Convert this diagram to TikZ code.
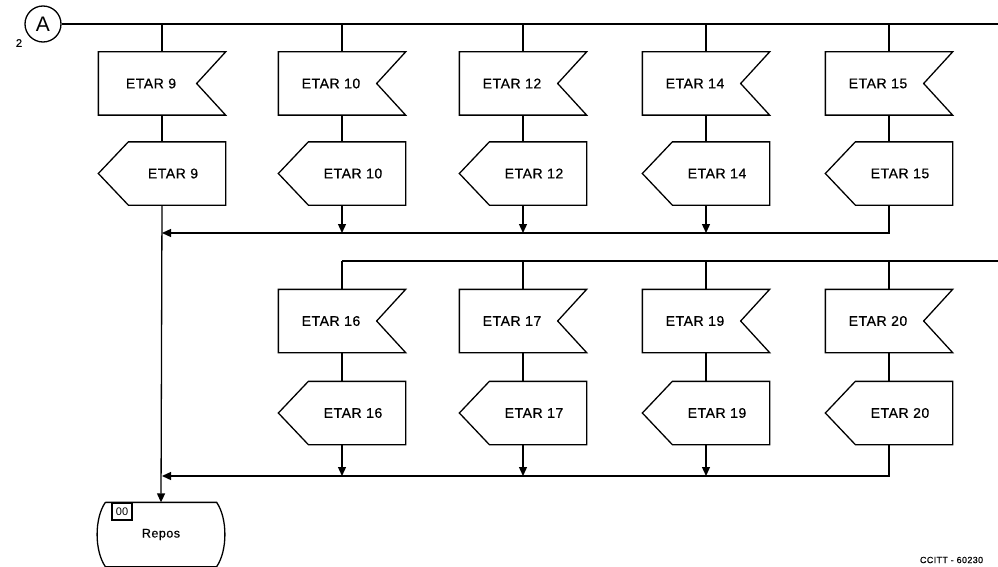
\documentclass[tikz,border=0pt]{standalone}
\usepackage{fontspec}
\setmainfont{Liberation Sans}
\newfontfamily\etarfont[LetterSpace=4,FakeBold=0.6]{Liberation Sans}
\usetikzlibrary{arrows.meta}

\begin{document}
\begin{tikzpicture}[x=1pt, y=-1pt, line width=1.3pt, >={Triangle[length=9pt,width=8pt]},
    inbox/.style={minimum width=126pt, minimum height=62pt, inner sep=0pt,
      font=\etarfont\fontsize{14}{16}\selectfont, execute at end node={\hspace{22pt}},
      append after command={\pgfextra{\draw (\tikzlastnode.north west) -- (\tikzlastnode.north east)
        -- ([xshift=-29pt]\tikzlastnode.east) -- (\tikzlastnode.south east)
        -- (\tikzlastnode.south west) -- cycle;}}},
    outbox/.style={minimum width=126pt, minimum height=62pt, inner sep=0pt,
      font=\etarfont\fontsize{14}{16}\selectfont, execute at begin node={\hspace{22pt}},
      append after command={\pgfextra{\draw ([xshift=30pt]\tikzlastnode.north west) -- (\tikzlastnode.north east)
        -- (\tikzlastnode.south east) -- ([xshift=30pt]\tikzlastnode.south west)
        -- (\tikzlastnode.west) -- cycle;}}},
    statebox/.style={minimum width=110pt, minimum height=63pt, inner sep=0pt,
      font=\etarfont\fontsize{12.5}{14}\selectfont,
      append after command={\pgfextra{\draw (\tikzlastnode.north west) -- (\tikzlastnode.north east)
        .. controls +(11,16) and +(11,-16) .. (\tikzlastnode.south east)
        -- (\tikzlastnode.south west)
        .. controls +(-11,-16) and +(-11,16) .. (\tikzlastnode.north west);}}}]
  \useasboundingbox (0,0) rectangle (998,567);

  \node[circle, draw, minimum size=36pt, inner sep=0pt, font=\fontsize{21}{23}\selectfont] (A) at (43,24) {A};
  \node[font=\etarfont\fontsize{11}{12}\selectfont] (pg) at (19,43) {2};
  \coordinate (end1) at (998,24);
  \coordinate (t2) at (342,261);
  \coordinate (end2) at (998,261);
  \coordinate (m1) at (162,233);
  \coordinate (m2) at (162,476);

  \node[inbox] (in9) at (162,83.5) {ETAR 9};
  \node[inbox] (in10) at (342,83.5) {ETAR 10};
  \node[inbox] (in12) at (523,83.5) {ETAR 12};
  \node[inbox] (in14) at (706,83.5) {ETAR 14};
  \node[inbox] (in15) at (889,83.5) {ETAR 15};
  \node[outbox] (out9) at (162,173.5) {ETAR 9};
  \node[outbox] (out10) at (342,173.5) {ETAR 10};
  \node[outbox] (out12) at (523,173.5) {ETAR 12};
  \node[outbox] (out14) at (706,173.5) {ETAR 14};
  \node[outbox] (out15) at (889,173.5) {ETAR 15};

  \node[inbox] (in16) at (342,321) {ETAR 16};
  \node[inbox] (in17) at (523,321) {ETAR 17};
  \node[inbox] (in19) at (706,321) {ETAR 19};
  \node[inbox] (in20) at (889,321) {ETAR 20};
  \node[outbox] (out16) at (342,413) {ETAR 16};
  \node[outbox] (out17) at (523,413) {ETAR 17};
  \node[outbox] (out19) at (706,413) {ETAR 19};
  \node[outbox] (out20) at (889,413) {ETAR 20};

  \node[statebox] (repos) at (161,534.5) {Repos};
  \node[draw, anchor=north west, minimum width=20pt, minimum height=17pt, inner sep=0pt,
    font=\fontsize{11}{12}\selectfont] (num) at ([xshift=6pt]repos.north west) {00};
  \node[anchor=west, font=\etarfont\fontsize{9}{10}\selectfont] (ref) at (916,560) {CCITT - 60230};

  \draw (A) -- (end1);
  \draw (in9.north) -- (in9.north |- A);
  \draw (in10.north) -- (in10.north |- A);
  \draw (in12.north) -- (in12.north |- A);
  \draw (in14.north) -- (in14.north |- A);
  \draw (in15.north) -- (in15.north |- A);
  \draw (in9) -- (out9);
  \draw (in10) -- (out10);
  \draw (in12) -- (out12);
  \draw (in14) -- (out14);
  \draw (in15) -- (out15);
  \draw[->] (out10.south) -- (out10.south |- m1);
  \draw[->] (out12.south) -- (out12.south |- m1);
  \draw[->] (out14.south) -- (out14.south |- m1);
  \draw[->] (out15.south) |- (m1);

  \draw (t2) -- (end2);
  \draw (in16.north) -- (in16.north |- t2);
  \draw (in17.north) -- (in17.north |- t2);
  \draw (in19.north) -- (in19.north |- t2);
  \draw (in20.north) -- (in20.north |- t2);
  \draw (in16) -- (out16);
  \draw (in17) -- (out17);
  \draw (in19) -- (out19);
  \draw (in20) -- (out20);
  \draw[->] (out16.south) -- (out16.south |- m2);
  \draw[->] (out17.south) -- (out17.south |- m2);
  \draw[->] (out19.south) -- (out19.south |- m2);
  \draw[->] (out20.south) |- (m2);

  \draw[->] (out9.south) -- (repos.north);
\end{tikzpicture}
\end{document}
